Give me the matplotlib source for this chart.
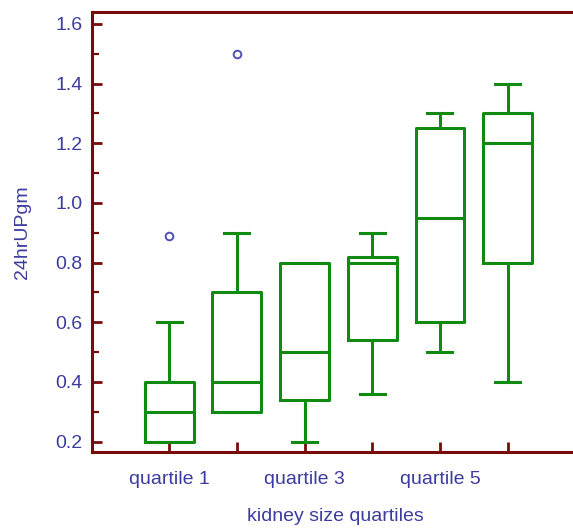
import matplotlib
matplotlib.use("Agg")
import matplotlib.pyplot as plt
from matplotlib.ticker import MultipleLocator

plt.rcParams['font.family'] = ['Liberation Sans', 'DejaVu Sans']

# Box summary per kidney size group
groups = ["quartile 1", "quartile 2", "quartile 3", "quartile 4", "quartile 5", "quartile 6"]
whisker_low = [0.20, 0.30, 0.20, 0.36, 0.50, 0.40]
q1_vals     = [0.20, 0.30, 0.34, 0.54, 0.60, 0.80]
medians     = [0.30, 0.40, 0.50, 0.80, 0.95, 1.20]
q3_vals     = [0.40, 0.70, 0.80, 0.82, 1.25, 1.30]
whisker_high = [0.60, 0.90, 0.80, 0.90, 1.30, 1.40]
outliers    = [[0.89], [1.50], [], [], [], []]
tick_labels = ["quartile 1", "", "quartile 3", "", "quartile 5", ""]

GREEN = "#118a11"
DARKRED = "#7a0a0a"
BLUE = "#3c3ca0"

stats = []
for i, name in enumerate(groups):
    stats.append(dict(label=name, whislo=whisker_low[i], q1=q1_vals[i], med=medians[i],
                      q3=q3_vals[i], whishi=whisker_high[i], fliers=outliers[i]))

fig = plt.figure(figsize=(5.73, 5.30), dpi=100)
ax = fig.add_axes([92 / 573, 1 - 452 / 530, (573 - 92) / 573 + 0.01, (452 - 12) / 530])

line_kw = dict(color=GREEN, linewidth=2.2)
ax.bxp(stats, positions=range(1, 7), widths=0.72, capwidths=0.37,
       boxprops=line_kw, whiskerprops=line_kw, capprops=line_kw, medianprops=line_kw,
       flierprops=dict(marker="o", markersize=5.5, markerfacecolor="none",
                       markeredgecolor="#5050b8", markeredgewidth=1.4))

ax.set_xlim(-0.14, 7.05)
ax.set_ylim(0.165, 1.64)

ax.set_xticks(range(1, 7))
ax.set_xticklabels(tick_labels)
ax.yaxis.set_major_locator(MultipleLocator(0.2))
ax.yaxis.set_minor_locator(MultipleLocator(0.1))
ax.set_yticks([0.2, 0.4, 0.6, 0.8, 1.0, 1.2, 1.4, 1.6])
ax.set_yticklabels(["0.2", "0.4", "0.6", "0.8", "1.0", "1.2", "1.4", "1.6"])

for side in ("left", "bottom", "top"):
    ax.spines[side].set_color(DARKRED)
    ax.spines[side].set_linewidth(2.2)
ax.spines["right"].set_visible(False)

ax.tick_params(axis="both", which="major", direction="in", length=7, width=2,
               color=DARKRED, labelcolor=BLUE, labelsize=14)
ax.tick_params(axis="y", which="minor", direction="in", length=5, width=1.6, color=DARKRED)
ax.tick_params(axis="x", which="major", pad=14)
ax.tick_params(axis="y", which="major", pad=7)

ax.set_xlabel("kidney size quartiles", color=BLUE, fontsize=14, labelpad=14)
ax.set_ylabel("24hrUPgm", color=BLUE, fontsize=14, labelpad=17)

fig.savefig("out.png", dpi=100)
